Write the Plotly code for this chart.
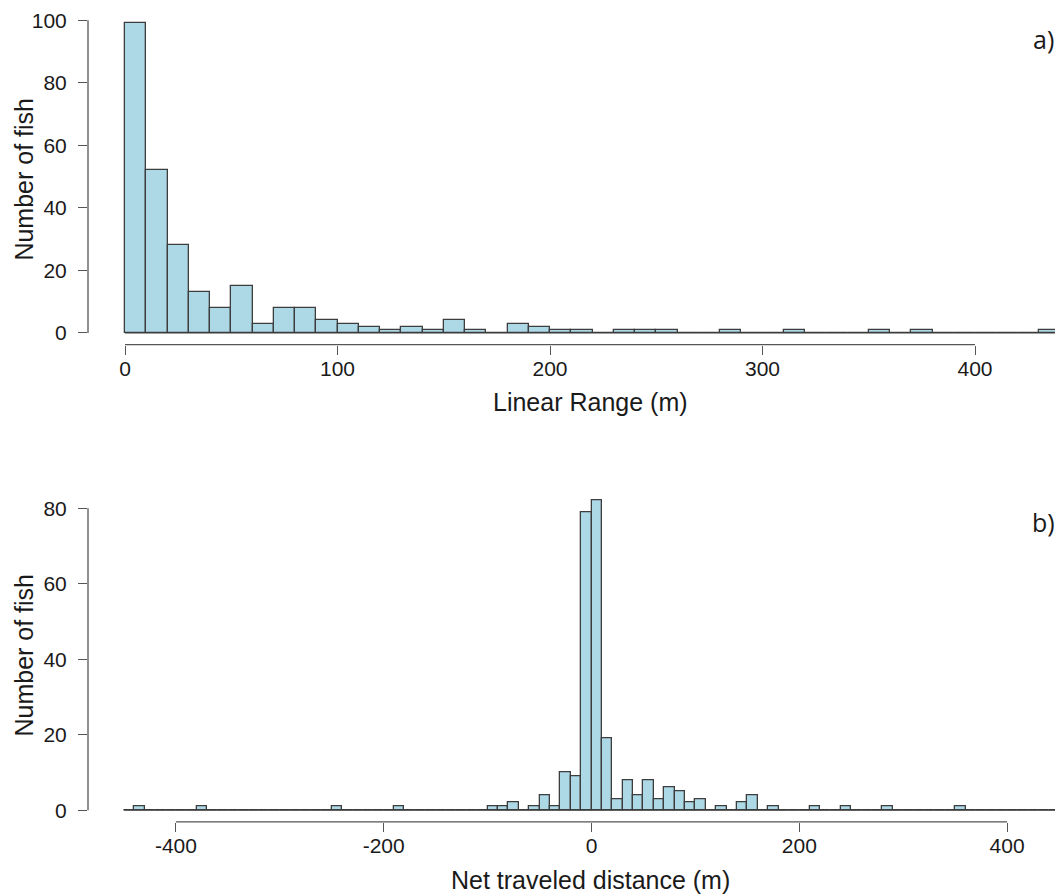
import plotly.graph_objects as go

# ---------------- data ----------------
BIN_WIDTH = 10

# a) Linear Range (m): bins start at 0, width 10
range_bin_start = 0
range_counts = [99, 52, 28, 13, 8, 15, 3, 8, 8, 4,
                3, 2, 1, 2, 1, 4, 1, 0, 3, 2,
                1, 1, 0, 1, 1, 1, 0, 0, 1, 0,
                0, 1, 0, 0, 0, 1, 0, 1, 0, 0,
                0, 0, 0, 1]
range_ticks = [0, 100, 200, 300, 400]
range_ticktext = ["0", "100", "200", "300", "400"]
range_yticks = [0, 20, 40, 60, 80, 100]

# b) Net traveled distance (m): bins start at -450, width 10
net_bin_start = -450
net_counts = [0, 1, 0, 0, 0, 0, 0, 1, 0, 0,
              0, 0, 0, 0, 0, 0, 0, 0, 0, 0,
              1, 0, 0, 0, 0, 0, 1, 0, 0, 0,
              0, 0, 0, 0, 0, 1, 1, 2, 0, 1,
              4, 1, 10, 9, 79, 82, 19, 3, 8, 4,
              8, 3, 6, 5, 2, 3, 0, 1, 0, 2,
              4, 0, 1, 0, 0, 0, 1, 0, 0, 1,
              0, 0, 0, 1, 0, 0, 0, 0, 0, 0,
              1, 0, 0, 0, 0, 0, 0, 0, 0, 0]
net_ticks = [-400, -200, 0, 200, 400]
net_ticktext = ["-400", "-200", "0", "200", "400"]
net_yticks = [0, 20, 40, 60, 80]

# ---------------- styling / layout ----------------
SCREEN_W, SCREEN_H = 1063, 896
OFF = 8  # default page body margin
W, H = SCREEN_W - OFF, SCREEN_H - OFF
FILL = "#ADD8E6"
EDGE = "#3d3d3d"
AXC = "#555555"
TICK_FONT = dict(family="Liberation Sans, Arial, sans-serif", size=21, color="#1a1a1a")
TITLE_FONT = dict(family="Liberation Sans, Arial, sans-serif", size=25, color="#1a1a1a")
PANEL_FONT = dict(family="Open Sans, Noto Sans, sans-serif", size=25, color="#1a1a1a")

LEFT_PX = 88  # y-axis position on screen (left of plot region)


def centers(start, counts):
    return [start + BIN_WIDTH * (i + 0.5) for i in range(len(counts))]


# pixel calibration in screen coordinates (positions only)
top = dict(x0px=125.0, xppu=2.125, y0px=331.7, yppu=3.134, ytop_px=9.0, ybot_px=343.3)
bot = dict(x0px=591.5, xppu=1.039, y0px=810.0, yppu=3.784, ytop_px=487.3, ybot_px=821.7)


def xrange_of(p):
    return [(LEFT_PX - p["x0px"]) / p["xppu"], (SCREEN_W - p["x0px"]) / p["xppu"]]


def yrange_of(p):
    return [-(p["ybot_px"] - p["y0px"]) / p["yppu"], (p["y0px"] - p["ytop_px"]) / p["yppu"]]


def ydomain_of(p):
    return [1 - (p["ybot_px"] - OFF) / H, 1 - (p["ytop_px"] - OFF) / H]


fig = go.Figure()

fig.add_trace(go.Bar(
    x=centers(range_bin_start, range_counts), y=range_counts, width=BIN_WIDTH,
    marker=dict(color=FILL, line=dict(color=EDGE, width=1.3)),
    xaxis="x", yaxis="y", showlegend=False, hoverinfo="x+y"))

fig.add_trace(go.Bar(
    x=centers(net_bin_start, net_counts), y=net_counts, width=BIN_WIDTH,
    marker=dict(color=FILL, line=dict(color=EDGE, width=1.3)),
    xaxis="x2", yaxis="y2", showlegend=False, hoverinfo="x+y"))

common_x = dict(showgrid=False, zeroline=False, showline=False, ticks="outside",
                ticklen=9, tickwidth=1.3, tickcolor=AXC, tickfont=TICK_FONT,
                domain=[(LEFT_PX - OFF) / W, 1], ticklabelstandoff=-4,
                ticklabeloverflow="allow")
common_y = dict(showgrid=False, zeroline=False, showline=False, ticks="outside",
                ticklen=9, tickwidth=1.3, tickcolor=AXC, tickfont=TICK_FONT,
                ticklabelstandoff=7, ticklabeloverflow="allow")

fig.update_layout(
    width=W, height=H,
    margin=dict(l=0, r=0, t=0, b=0),
    paper_bgcolor="white", plot_bgcolor="white",
    bargap=0,
    xaxis=dict(common_x, range=xrange_of(top), tickvals=range_ticks,
               ticktext=range_ticktext, anchor="y"),
    yaxis=dict(common_y, range=yrange_of(top), tickvals=range_yticks,
               domain=ydomain_of(top), anchor="x"),
    xaxis2=dict(common_x, range=xrange_of(bot), tickvals=net_ticks,
                ticktext=net_ticktext, anchor="y2"),
    yaxis2=dict(common_y, range=yrange_of(bot), tickvals=net_yticks,
                domain=ydomain_of(bot), anchor="x2"),
)

shapes = []
line = dict(color=AXC, width=1.3)
# R-style axis lines spanning first to last tick
shapes.append(dict(type="line", xref="x", yref="y domain", x0=range_ticks[0], x1=range_ticks[-1],
                   y0=0, y1=0, line=line))
shapes.append(dict(type="line", xref="x domain", yref="y", x0=0, x1=0,
                   y0=range_yticks[0], y1=range_yticks[-1], line=line))
shapes.append(dict(type="line", xref="x2", yref="y2 domain", x0=net_ticks[0], x1=net_ticks[-1],
                   y0=0, y1=0, line=line))
shapes.append(dict(type="line", xref="x2 domain", yref="y2", x0=0, x1=0,
                   y0=net_yticks[0], y1=net_yticks[-1], line=line))
# histogram baselines (zero-height bins)
shapes.append(dict(type="line", xref="x", yref="y", x0=range_bin_start,
                   x1=range_bin_start + BIN_WIDTH * len(range_counts), y0=0, y1=0,
                   line=dict(color=EDGE, width=1.3)))
shapes.append(dict(type="line", xref="x2", yref="y2", x0=net_bin_start,
                   x1=net_bin_start + BIN_WIDTH * len(net_counts), y0=0, y1=0,
                   line=dict(color=EDGE, width=1.3)))
fig.update_layout(shapes=shapes)


def ann(text, px, py, font, angle=0):
    return dict(text=text, x=(px - OFF) / W, y=1 - (py - OFF) / H, xref="paper", yref="paper",
                xanchor="center", yanchor="middle", showarrow=False, font=font,
                textangle=angle)


fig.update_layout(annotations=[
    ann("Linear Range (m)", 590, 401, TITLE_FONT),
    ann("Net traveled distance (m)", 590, 880, TITLE_FONT),
    ann("Number of fish", 24, 178, TITLE_FONT, -90),
    ann("Number of fish", 24, 655, TITLE_FONT, -90),
    ann("a)", 1043, 37, PANEL_FONT),
    ann("b)", 1043, 521, PANEL_FONT),
])

fig.write_html("out.html")
